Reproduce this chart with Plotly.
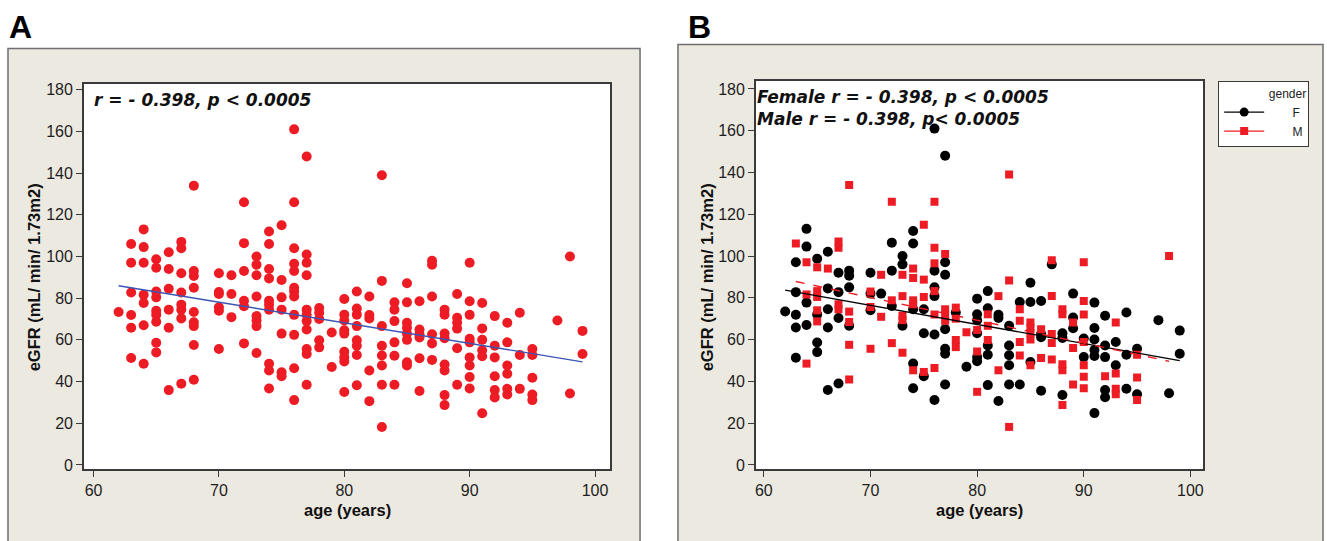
import numpy as np
import plotly.graph_objects as go

# ---------------- data ----------------
f_age = [62,
         63, 63, 63, 63, 63,
         64, 64, 64, 64,
         65, 65, 65, 65,
         66, 66, 66, 66, 66,
         67, 67, 67, 67,
         68, 68, 68, 68,
         70, 70, 70,
         71,
         72, 72, 72,
         73, 73, 73,
         74, 74, 74, 74, 74,
         75, 75, 75,
         76, 76, 76, 76, 76, 76,
         77, 77, 77, 77, 77, 77, 77,
         78,
         79,
         80, 80, 80, 80, 80, 80,
         81, 81, 81, 81, 81,
         82, 82, 82,
         83, 83, 83, 83, 83,
         84, 84,
         85, 85, 85,
         86, 86, 86, 86,
         87,
         88, 88, 88,
         89, 89, 89,
         90, 90,
         91, 91, 91, 91, 91, 91,
         92, 92, 92, 92, 92,
         93, 93,
         94, 94, 94,
         95, 95,
         97,
         98,
         99, 99]
f_egfr = [73.4,
          97, 82.7, 71.9, 65.8, 51.3,
          113, 104.5, 77.7, 67,
          98.7, 72, 58.6, 54,
          102, 84.5, 74.5, 65.8, 35.9,
          92, 82.7, 70.3, 39,
          93, 90.6, 85, 66.6,
          92, 82, 74,
          82,
          106.4, 93, 76.1,
          100, 96, 66.6,
          112, 106, 74.5, 48.5, 36.7,
          74.5, 63, 42.5,
          161, 93, 85, 80.8, 62.4, 31.1,
          148, 97, 91, 65, 55.6, 53.2, 38.5,
          73,
          47,
          79.6, 72.1, 69.3, 63, 51.6, 49.6,
          83.2, 75, 57.2, 52.7, 38.2,
          71.9, 70.3, 30.6,
          66.6, 57.2, 52.5, 47.7, 38.5,
          78, 38.5,
          87.2, 78, 49.3,
          78.5, 62.7, 61.1, 35.5,
          96,
          63, 60.8, 33.5,
          82, 70.6, 65.4,
          60.5, 51.6,
          77.7, 65.5, 60, 55, 52.1, 24.8,
          71.4, 57.2, 51.6, 35.9, 32.4,
          58.8, 47.7,
          73, 52.7, 36.5,
          55.6, 33.8,
          69.3,
          34.3,
          64.3, 53.2]

m_age = [63,
         64, 64, 64,
         65, 65, 65, 65, 65,
         66,
         67, 67, 67, 67,
         68, 68, 68, 68, 68,
         70, 70, 70,
         71, 71,
         72, 72, 72,
         73, 73, 73, 73, 73,
         74, 74, 74, 74, 74,
         75, 75, 75, 75,
         76, 76, 76, 76, 76, 76,
         77, 77, 77, 77,
         78, 78, 78, 78,
         79,
         80, 80, 80,
         81, 81, 81,
         82, 82,
         83, 83, 83,
         84, 84, 84, 84,
         85, 85, 85, 85, 85,
         86, 86,
         87, 87, 87, 87, 87,
         88, 88, 88, 88, 88,
         89, 89, 89,
         90, 90, 90, 90, 90, 90, 90,
         92,
         93, 93, 93, 93,
         95, 95, 95,
         98]
m_egfr = [106,
          97, 81.6, 48.5,
          94.6, 83.2, 80.4, 74, 68.7,
          94,
          107, 104, 76.9, 74.5,
          134, 73.4, 68.4, 57.5, 40.9,
          83, 75.6, 55.6,
          91, 70.9,
          126, 78.8, 58.3,
          91, 80.8, 71.4, 69.3, 53.7,
          94, 89.5, 78.8, 76.9, 45.3,
          115, 88.7, 80.4, 44.5,
          126, 104, 96.5, 83.2, 72, 46.4,
          101, 74.5, 72, 69,
          75.3, 70, 59.8, 56.4,
          63.5,
          64.6, 54.3, 35,
          72.1, 66.6, 59.8,
          80.8, 45.3,
          139, 88.3, 18.2,
          74.5, 69, 58.8, 52.4,
          68.2, 65.8, 63, 60, 47.7,
          65, 51.2,
          98, 80.8, 62.7, 58.3, 50.4,
          74.5, 72.1, 48.2, 45.3, 28.7,
          68.2, 56, 38.5,
          97, 78.5, 72, 58.8, 47.7, 42.2, 36.7,
          42.5,
          68.2, 43.7, 36.5, 33.8,
          52.7, 41.8, 31.1,
          100]

y_ticks = [0, 20, 40, 60, 80, 100, 120, 140, 160, 180]
x_ticks = [60, 70, 80, 90, 100]
gender_labels = ["F", "M"]
stat_all = "r = - 0.398, p < 0.0005"
stat_f = "Female r = - 0.398, p < 0.0005"
stat_m = "Male r = - 0.398, p< 0.0005"

# ---------------- helpers ----------------
W, H = 1327, 541
def px(x):
    return x / W
def py(y):
    return (H - y) / H

def fit_line(ages, vals):
    a = np.asarray(ages, float)
    v = np.asarray(vals, float)
    k, b = np.polyfit(a, v, 1)
    xs = np.array([a.min(), a.max()])
    return xs, k * xs + b

all_age = f_age + m_age
all_egfr = f_egfr + m_egfr

RED = "#ED1C24"
BEIGE = "#ECE9E0"
FRAME = "#6E6E6E"
AX = "#3A3A3A"

fig = go.Figure()

# ---- Panel A ----
fig.add_trace(go.Scatter(x=all_age, y=all_egfr, mode="markers",
                         marker=dict(color=RED, size=10, line=dict(width=0)),
                         showlegend=False, xaxis="x", yaxis="y"))
lx, ly = fit_line(all_age, all_egfr)
fig.add_trace(go.Scatter(x=lx, y=ly, mode="lines",
                         line=dict(color="#3B55B5", width=1.4),
                         showlegend=False, xaxis="x", yaxis="y"))

# ---- Panel B ----
fig.add_trace(go.Scatter(x=f_age, y=f_egfr, mode="markers",
                         marker=dict(color="black", size=10, symbol="circle", line=dict(width=0)),
                         showlegend=False, xaxis="x2", yaxis="y2"))
fig.add_trace(go.Scatter(x=m_age, y=m_egfr, mode="markers",
                         marker=dict(color=RED, size=8, symbol="square", line=dict(width=0)),
                         showlegend=False, xaxis="x2", yaxis="y2"))
fx, fy = fit_line(f_age, f_egfr)
fig.add_trace(go.Scatter(x=fx, y=fy, mode="lines",
                         line=dict(color="black", width=1.4),
                         showlegend=False, xaxis="x2", yaxis="y2"))
mx, my = fit_line(m_age, m_egfr)
fig.add_trace(go.Scatter(x=mx, y=my, mode="lines",
                         line=dict(color=RED, width=1.4, dash="dash"),
                         showlegend=False, xaxis="x2", yaxis="y2"))
# legend entries
pad = "\u00a0" * 7
fig.add_trace(go.Scatter(x=[None], y=[None], mode="lines+markers", name=pad + gender_labels[0],
                         marker=dict(color="black", size=9, symbol="circle"),
                         line=dict(color="black", width=1.3),
                         xaxis="x2", yaxis="y2"))
fig.add_trace(go.Scatter(x=[None], y=[None], mode="lines+markers", name=pad + gender_labels[1],
                         marker=dict(color=RED, size=8, symbol="square"),
                         line=dict(color=RED, width=1.3),
                         xaxis="x2", yaxis="y2"))

tickfont = dict(family="Liberation Sans, Arial", size=16, color="#1e1e1e")
axis_common = dict(showline=True, mirror=True, linecolor=AX, linewidth=1.5,
                   ticks="outside", ticklen=6, tickwidth=1.2, tickcolor=AX,
                   showgrid=False, zeroline=False, tickfont=tickfont)

fig.update_layout(
    width=W, height=H,
    margin=dict(l=0, r=0, t=0, b=0),
    paper_bgcolor="white",
    plot_bgcolor="white",
    xaxis=dict(domain=[px(83), px(610)], range=[59.23, 101.2], tickvals=x_ticks,
               anchor="y", **axis_common),
    yaxis=dict(domain=[py(473), py(83)], range=[-1.9, 182.8], tickvals=y_ticks,
               anchor="x", **axis_common),
    xaxis2=dict(domain=[px(756), px(1204)], range=[59.25, 101.2], tickvals=x_ticks,
                anchor="y2", **axis_common),
    yaxis2=dict(domain=[py(473), py(80)], range=[-1.9, 183.8], tickvals=y_ticks,
                anchor="x2", **axis_common),
    showlegend=True,
    legend=dict(x=px(1219), y=py(80), xanchor="left", yanchor="top",
                bgcolor="white", bordercolor=AX, borderwidth=1,
                font=dict(family="Liberation Sans, Arial", size=12, color="#222"),
                title=dict(text="gender", side="top right",
                           font=dict(family="Liberation Sans, Arial", size=12, color="#222")),
                itemwidth=40, tracegroupgap=0),
)

shapes = [
    dict(type="rect", xref="paper", yref="paper", x0=px(7), x1=px(640), y0=-0.02, y1=py(47),
         fillcolor=BEIGE, line=dict(color=FRAME, width=1.5), layer="below"),
    dict(type="rect", xref="paper", yref="paper", x0=px(678), x1=px(1324), y0=-0.02, y1=py(43),
         fillcolor=BEIGE, line=dict(color=FRAME, width=1.5), layer="below"),
    dict(type="rect", xref="x domain", yref="y domain", x0=0, x1=1, y0=0, y1=1,
         fillcolor="white", line=dict(width=0), layer="below"),
    dict(type="rect", xref="x2 domain", yref="y2 domain", x0=0, x1=1, y0=0, y1=1,
         fillcolor="white", line=dict(width=0), layer="below"),
]
fig.update_layout(shapes=shapes)

title_font = dict(family="Liberation Sans, Arial", size=16.5, color="#111")
stat_font = dict(family="DejaVu Sans", size=17, color="#111")
annotations = [
    dict(text="<b>A</b>", x=px(6), y=py(25), xref="paper", yref="paper",
         xanchor="left", yanchor="middle", showarrow=False,
         font=dict(family="Liberation Sans, Arial", size=32, color="black")),
    dict(text="<b>B</b>", x=px(686), y=py(25), xref="paper", yref="paper",
         xanchor="left", yanchor="middle", showarrow=False,
         font=dict(family="Liberation Sans, Arial", size=32, color="black")),
    dict(text="<b><i>" + stat_all + "</i></b>", x=px(91), y=py(99), xref="paper", yref="paper",
         xanchor="left", yanchor="middle", showarrow=False, font=stat_font),
    dict(text="<b><i>" + stat_f + "</i></b>", x=px(755), y=py(96), xref="paper", yref="paper",
         xanchor="left", yanchor="middle", showarrow=False, font=stat_font),
    dict(text="<b><i>" + stat_m + "</i></b>", x=px(755), y=py(119), xref="paper", yref="paper",
         xanchor="left", yanchor="middle", showarrow=False, font=stat_font),
    dict(text="<b>age (years)</b>", x=px(347), y=py(515), xref="paper", yref="paper",
         xanchor="center", yanchor="middle", showarrow=False, font=title_font),
    dict(text="<b>age (years)</b>", x=px(980), y=py(515), xref="paper", yref="paper",
         xanchor="center", yanchor="middle", showarrow=False, font=title_font),
    dict(text="<b>eGFR (mL/ min/ 1.73m2)</b>", x=px(33), y=py(279), xref="paper", yref="paper",
         xanchor="center", yanchor="middle", textangle=-90, showarrow=False, font=title_font),
    dict(text="<b>eGFR (mL/ min/ 1.73m2)</b>", x=px(707), y=py(279), xref="paper", yref="paper",
         xanchor="center", yanchor="middle", textangle=-90, showarrow=False, font=title_font),
]
fig.update_layout(annotations=annotations)

fig.write_html("out.html", config={"displayModeBar": False},
               post_script="document.body.style.margin='0';")
